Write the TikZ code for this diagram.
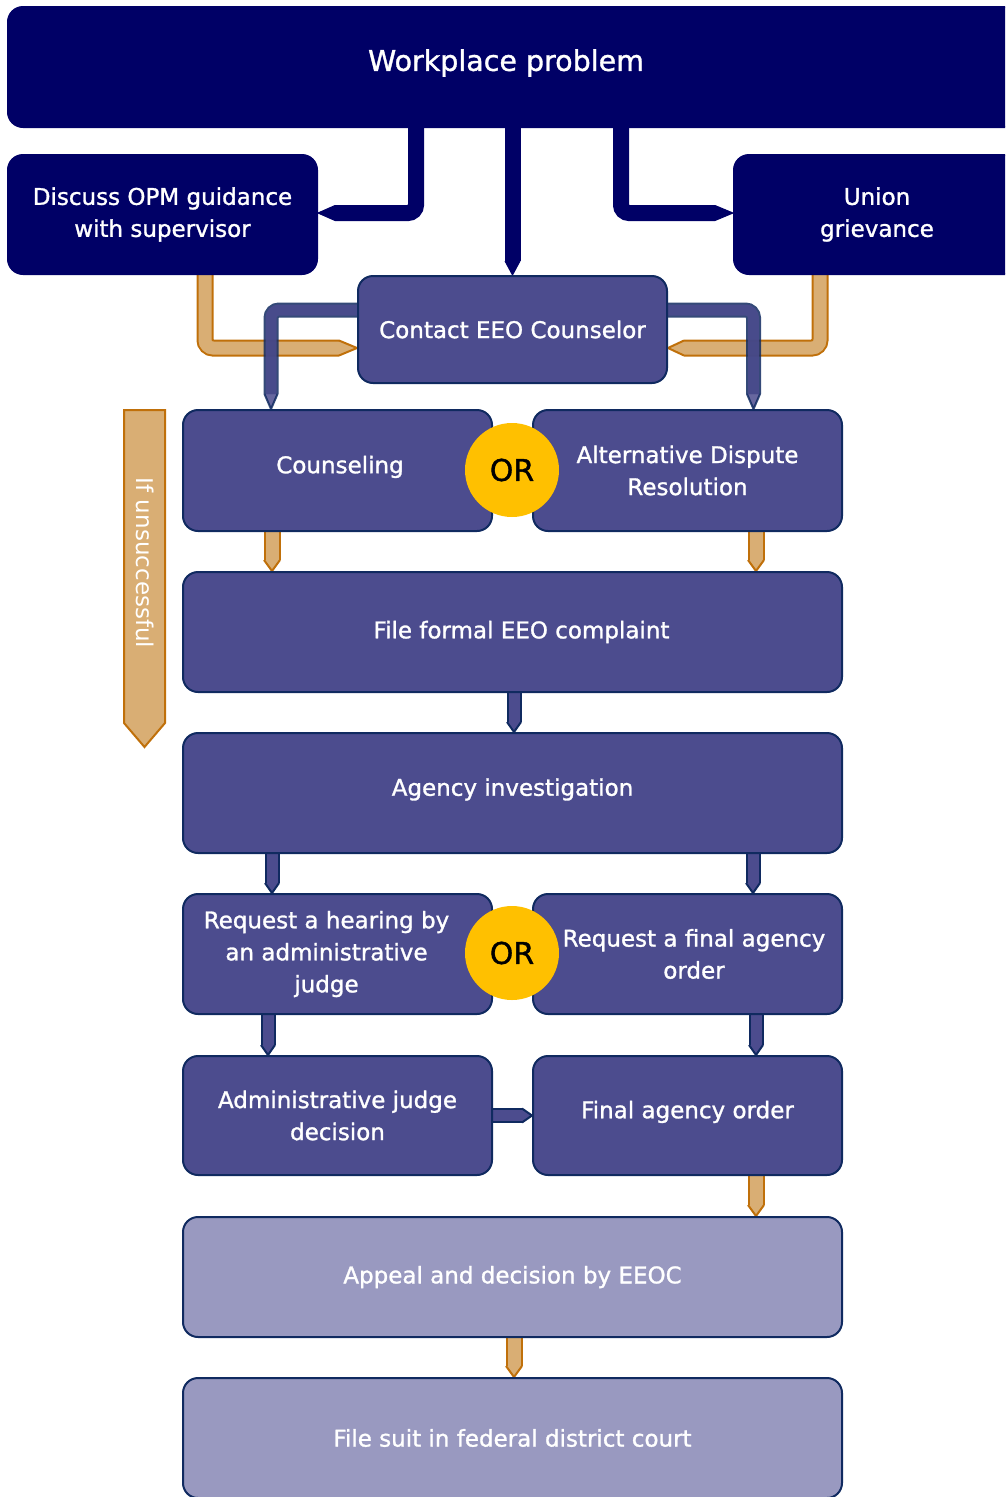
\documentclass[tikz,border=0pt]{standalone}
\usepackage{fontspec}
\setmainfont{DejaVu Sans}
\newfontfamily\boxfont[FakeBold=1.2]{DejaVu Sans}
\usetikzlibrary{calc}
\pgfdeclarelayer{bands}
\pgfsetlayers{bands,main}

\definecolor{navy}{HTML}{000066}
\definecolor{mid}{HTML}{4C4C8E}
\definecolor{edge}{HTML}{102A60}
\definecolor{light}{HTML}{9999C0}
\definecolor{tanfill}{HTML}{D9AE74}
\definecolor{tanedge}{HTML}{C0700A}
\definecolor{gold}{HTML}{FFC000}

% Block connector: body along a path, pointed head at the tip.
% #1 body style, #2 head style, #3 start, #4 path operation,
% #5 tip coordinate name, #6 direction angle, #7 head length, #8 head half-width
\newcommand\flowband[8]{%
  \coordinate (hb) at ($(#5)+(#6+180:#7)$);
  \draw[#1] (#3) #4 (hb);
  \filldraw[#2] ($(hb)+(#6+90:#8)$) -- (#5) -- ($(hb)+(#6-90:#8)$);
}
% trailing pad that survives the line break's \unskip
\newcommand\padr{\hspace*{22pt}\mbox{}}

\begin{document}
\begin{tikzpicture}[x=1pt,y=-1pt,
  box/.style={rectangle, rounded corners=15pt, draw=edge, line width=2pt,
    fill=mid, text=white, align=center, inner sep=0pt,
    font=\boxfont\fontsize{23}{32}\selectfont},
  topbox/.style={box, fill=navy, draw=navy},
  lightbox/.style={box, fill=light},
  narrow/.style={minimum width=309pt, minimum height=120pt},
  wide/.style={minimum width=659pt, minimum height=120pt},
  orc/.style={circle, fill=gold, minimum size=94pt, inner sep=0pt,
    text=black, font=\boxfont\fontsize{30}{30}\selectfont},
  navyband/.style={draw=navy, double=navy, double distance=14pt, line width=1pt, rounded corners=8pt},
  navyhead/.style={fill=navy, draw=navy, line width=1pt},
  tanband/.style={draw=tanedge, double=tanfill, double distance=13pt, line width=2pt, rounded corners=8pt},
  tanhead/.style={fill=tanfill, draw=tanedge, line width=2pt},
  midband/.style={draw=edge, double=mid, double distance=11pt, line width=2pt, rounded corners=8pt},
  midhead/.style={fill=mid, draw=edge, line width=2pt},
]
\useasboundingbox (0,0) rectangle (1005,1497);
\clip (0,0) rectangle (1005,1497);

% ---- boxes ----
\node[topbox, minimum width=1012pt, minimum height=120pt] (wp) at (514,67) {};
\node[text=white, font=\boxfont\fontsize{28.5}{32}\selectfont] (wpt) at (506,63) {Workplace problem};
\node[topbox, minimum width=309pt, minimum height=119pt] (dis) at (162.5,214.5) {Discuss OPM guidance\\with supervisor};
\node[topbox, minimum width=286pt, minimum height=119pt] (uni) at (877,214.5) {Union\\grievance};
\node[box, minimum width=309pt, minimum height=107pt] (cnt) at (512.5,329.5) {Contact EEO Counselor};
\node[box, minimum width=309pt, minimum height=121pt, text depth=12pt] (cou) at (337.5,470.5) {\hspace*{5pt}Counseling};
\node[box, minimum width=309pt, minimum height=121pt] (adr) at (687.5,470.5) {Alternative Dispute\\Resolution};
\node[orc] (or1) at (512,470) {OR};
\node[box, wide] (ffc) at (512.5,632) {\hspace*{18pt}File formal EEO complaint};
\node[box, wide, text depth=12pt] (agi) at (512.5,793) {Agency investigation};
\node[box, narrow] (rqh) at (337.5,954) {Request a hearing by\padr\\an administrative\padr\\judge\padr};
\node[box, narrow] (rqf) at (687.5,954) {\hspace*{13pt}Request a final agency\\\hspace*{13pt}order};
\node[orc] (or2) at (512,953) {OR};
\node[box, minimum width=309pt, minimum height=119pt] (ajd) at (337.5,1115.5) {Administrative judge\\decision};
\node[box, minimum width=309pt, minimum height=119pt, text depth=12pt] (fao) at (687.5,1115.5) {Final agency order};
\node[lightbox, wide] (apl) at (512.5,1277) {Appeal and decision by EEOC};
\node[lightbox, wide] (fsc) at (512.5,1438) {File suit in federal district court};

% ---- "If unsuccessful" side arrow ----
\filldraw[tanhead] (124,410) -- (165,410) -- (165,723) -- (144.5,747) -- (124,723) -- cycle;
\node[rotate=-90, text=white, font=\fontsize{23}{23}\selectfont] (ifu) at (145,563) {If unsuccessful};

% ---- connectors ----
\begin{pgfonlayer}{bands}
  % from the workplace problem
  \coordinate (t1) at ($(dis.east)+(0,-1.5)$);
  \flowband{navyband}{navyhead}{$(wp.south)+(-98,-4)$}{|-}{t1}{180}{17}{7.5}
  \coordinate (t2) at (cnt.north);
  \flowband{navyband}{navyhead}{$(wp.south -| cnt.north)+(0,-4)$}{--}{t2}{90}{14}{7.5}
  \coordinate (t3) at ($(uni.west)+(0,-1.5)$);
  \flowband{navyband}{navyhead}{$(wp.south)+(107,-4)$}{|-}{t3}{0}{18}{7.5}
  % into the EEO counselor
  \coordinate (t4) at ($(cnt.west)+(0,18.5)$);
  \flowband{tanband}{tanhead}{$(dis.south)+(42.5,-4)$}{|-}{t4}{0}{18}{7.5}
  \coordinate (t5) at ($(cnt.east)+(0,18.5)$);
  \flowband{tanband}{tanhead}{$(uni.south)+(-57,-4)$}{|-}{t5}{180}{16}{7.5}
  % counselor to counseling / ADR
  \begin{scope}[opacity=0.85]
    \coordinate (t6) at ($(cou.north)+(-66.5,0)$);
    \flowband{midband}{midhead}{$(cnt.west)+(4,-19.5)$}{-|}{t6}{90}{15}{6.5}
    \coordinate (t7) at ($(adr.north)+(66,0)$);
    \flowband{midband}{midhead}{$(cnt.east)+(-4,-19.5)$}{-|}{t7}{90}{15}{6.5}
  \end{scope}
  % to the formal complaint
  \coordinate (t8) at ($(ffc.north)+(-240.5,0)$);
  \flowband{tanband}{tanhead}{$(cou.south)+(-65.5,-4)$}{--}{t8}{90}{11}{8}
  \coordinate (t9) at ($(ffc.north)+(243.5,0)$);
  \flowband{tanband}{tanhead}{$(adr.south)+(68.5,-4)$}{--}{t9}{90}{11}{8}
  % investigation and requests
  \coordinate (t10) at ($(agi.north)+(1.5,0)$);
  \flowband{midband}{midhead}{$(ffc.south)+(1.5,-4)$}{--}{t10}{90}{10}{7}
  \coordinate (t11) at ($(rqh.north)+(-65.5,0)$);
  \flowband{midband}{midhead}{$(agi.south)+(-240.5,-4)$}{--}{t11}{90}{10}{7}
  \coordinate (t12) at ($(rqf.north)+(65.5,0)$);
  \flowband{midband}{midhead}{$(agi.south)+(240.5,-4)$}{--}{t12}{90}{10}{7}
  \coordinate (t13) at ($(ajd.north)+(-69.5,0)$);
  \flowband{midband}{midhead}{$(rqh.south)+(-69.5,-4)$}{--}{t13}{90}{10}{7}
  \coordinate (t14) at ($(fao.north)+(68.5,0)$);
  \flowband{midband}{midhead}{$(rqf.south)+(68.5,-4)$}{--}{t14}{90}{10}{7}
  \coordinate (t15) at (fao.west);
  \flowband{midband}{midhead}{$(ajd.east)+(-4,0)$}{--}{t15}{0}{10}{7}
  % appeal and court
  \coordinate (t16) at ($(apl.north)+(243.5,0)$);
  \flowband{tanband}{tanhead}{$(fao.south)+(68.5,-4)$}{--}{t16}{90}{11}{8}
  \coordinate (t17) at ($(fsc.north)+(1.5,0)$);
  \flowband{tanband}{tanhead}{$(apl.south)+(1.5,-4)$}{--}{t17}{90}{11}{8}
\end{pgfonlayer}
\end{tikzpicture}
\end{document}
